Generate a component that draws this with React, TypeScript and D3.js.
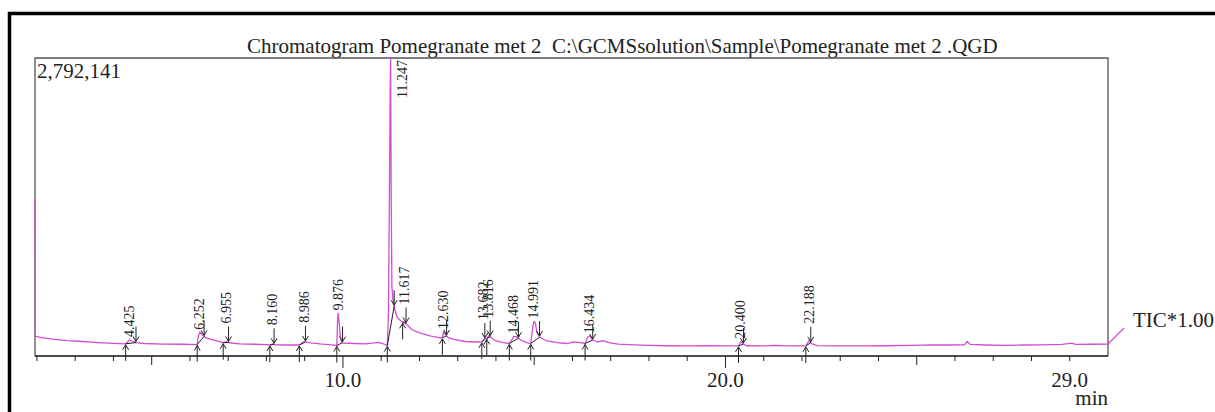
import React from 'react'
import * as d3 from 'd3'

// retention time (min) and TIC counts
const rtMin = [
  1.95, 1.96, 2.1, 2.4, 2.8, 3.2, 3.6, 4.0, 4.32, 4.42, 4.52, 4.59, 4.8, 5.3, 5.8,
  6.19, 6.22, 6.26, 6.32, 6.4, 6.55, 6.75, 6.87, 6.955, 7.03, 7.3, 7.7, 8.0, 8.09, 8.16,
  8.24, 8.5, 8.86, 8.95, 9.0, 9.1, 9.4, 9.7, 9.84, 9.86, 9.876, 9.9, 9.93, 9.96, 10.0,
  10.3, 10.6, 10.93, 11.1, 11.16, 11.19, 11.215, 11.235, 11.247, 11.26, 11.28, 11.31,
  11.36, 11.42, 11.49, 11.56, 11.617, 11.68, 11.8, 12.0, 12.3, 12.55, 12.6, 12.63, 12.68,
  12.75, 12.9, 13.2, 13.5, 13.63, 13.7, 13.76, 13.82, 13.9, 14.0, 14.2, 14.35, 14.47,
  14.55, 14.65, 14.8, 14.91, 14.96, 14.99, 15.03, 15.07, 15.14, 15.3, 15.6, 15.85, 16.05,
  16.25, 16.33, 16.4, 16.45, 16.53, 16.65, 16.8, 16.95, 17.2, 17.6, 18.0, 18.5, 19.0,
  19.5, 20.0, 20.34, 20.4, 20.47, 20.55, 21.0, 21.3, 21.6, 22.1, 22.18, 22.25, 22.4, 22.8,
  23.5, 24.2, 24.9, 25.4, 25.9, 26.25, 26.32, 26.4, 26.8, 27.3, 27.8, 28.3, 28.8, 29.05,
  29.15, 29.6, 30.0,
]
const ticCounts = [
  1480000, 187000, 173000, 159000, 145000, 136000, 126000, 119000, 114000, 150000, 136000,
  126000, 117000, 112000, 110000,
  107000, 187000, 225000, 201000, 173000, 155000, 136000, 124000, 136000, 124000, 114000,
  110000, 107000, 103000, 114000,
  105000, 103000, 103000, 126000, 134000, 126000, 114000, 105000, 98000, 337000, 398000,
  319000, 187000, 136000, 122000,
  117000, 114000, 128000, 108000, 98000, 400000, 1500000, 2500000, 2792141, 1600000, 650000,
  520000,
  431000, 360000, 337000, 316000, 320000, 290000, 248000, 216000, 187000, 169000, 169000,
  225000, 201000,
  173000, 155000, 136000, 131000, 132000, 159000, 164000, 192000, 164000, 141000, 126000,
  117000, 183000,
  178000, 150000, 126000, 117000, 262000, 323000, 309000, 225000, 178000, 145000, 126000,
  117000, 132000,
  122000, 117000, 178000, 187000, 150000, 131000, 145000, 126000, 112000, 105000, 100000,
  96000, 94000,
  97000, 94000, 94000, 133000, 112000, 96000, 94000, 100000, 94000, 94000, 141000, 117000,
  98000, 94000,
  94000, 96000, 100000, 105000, 103000, 105000, 136000, 108000, 103000, 100000, 103000,
  105000, 108000, 120000,
  108000, 110000, 112000,
]

// integrated peaks: apex, start and end times
const peakRT = [4.425, 6.252, 6.955, 8.16, 8.986, 9.876, 11.247, 11.617, 12.63, 13.682, 13.816, 14.468, 14.991, 16.434, 20.4, 22.188]
const peakStart = [4.32, 6.19, 6.87, 8.09, 8.86, 9.84, 11.16, 11.56, 12.6, 13.63, 13.76, 14.35, 14.91, 16.33, 20.34, 22.1]
const peakEnd = [4.59, 6.37, 7.01, 8.2, 9.02, 9.99, 11.34, 11.65, 12.71, 13.71, 13.85, 14.59, 15.14, 16.53, 20.47, 22.23]

const labelTicks = [10, 20, 29]
const fullScale = 2792141
const title = 'Chromatogram Pomegranate met 2  C:\\GCMSsolution\\Sample\\Pomegranate met 2 .QGD'

const serif = '"Liberation Serif", "Times New Roman", serif'

export default function App() {
  const W = 1215
  const H = 412
  const m = { left: 35, right: 1108, top: 58, bottom: 356 }

  const x = d3.scaleLinear().domain([1.95, 30]).range([m.left, m.right])
  const y = d3.scaleLinear().domain([0, fullScale]).range([m.bottom, m.top])

  const pts: [number, number][] = rtMin.map((t, i) => [t, ticCounts[i]])
  const line = d3.line<[number, number]>().x(d => x(d[0])).y(d => y(d[1]))
  const bis = d3.bisector((d: [number, number]) => d[0]).left
  const at = (t: number) => {
    const i = Math.max(1, Math.min(pts.length - 1, bis(pts, t)))
    const a = pts[i - 1], b = pts[i]
    return a[1] + (b[1] - a[1]) * (t - a[0]) / (b[0] - a[0])
  }

  const ticks = d3.range(2, 30)
  const fmt = d3.format('.3f')
  const last = pts[pts.length - 1]

  return (
    <svg width={W} height={H} style={{ position: 'absolute', left: 0, top: 0, background: '#fff' }}>
      {/* outer frame */}
      <rect x={9.5} y={13.5} width={1400} height={600} fill="none" stroke="#000" strokeWidth={3.5} />

      <text x={247} y={53} fontFamily={serif} fontSize={21} fill="#222" style={{ whiteSpace: 'pre' }}>{title}</text>

      {/* plot box */}
      <path d={`M${m.left},${m.bottom}V${m.top}H${m.right}V${m.bottom}`} fill="none" stroke="#555" strokeWidth={1.3} />
      <line x1={m.left} x2={m.right} y1={m.bottom} y2={m.bottom} stroke="#111" strokeWidth={1.3} />
      {ticks.map(t => (
        <line key={t} x1={x(t)} x2={x(t)} y1={m.bottom} y2={m.bottom + (t % 10 === 0 ? 12 : t % 5 === 0 ? 9 : 5)} stroke="#222" strokeWidth={1} />
      ))}
      {labelTicks.map(t => (
        <text key={t} x={x(t)} y={387} textAnchor="middle" fontFamily={serif} fontSize={21} fill="#222">{d3.format('.1f')(t)}</text>
      ))}
      <text x={m.right} y={405} textAnchor="end" fontFamily={serif} fontSize={21} fill="#222">min</text>

      <text x={37} y={78} fontFamily={serif} fontSize={21} fill="#222">{d3.format(',')(fullScale)}</text>

      {/* TIC trace */}
      <path d={line(pts) || ''} fill="none" stroke="#d24ed2" strokeWidth={1.3} strokeLinejoin="round" />
      <line x1={x(last[0])} y1={y(last[1])} x2={x(last[0]) + 16} y2={y(last[1]) - 16} stroke="#d24ed2" strokeWidth={1.2} />
      <text x={1133} y={327} fontFamily={serif} fontSize={21} fill="#222">TIC*1.00</text>

      {/* peak markers */}
      {peakRT.map((rt, i) => {
        const xs = x(peakStart[i]), ys = y(at(peakStart[i]))
        const xe = x(peakEnd[i]), ye = y(at(peakEnd[i]))
        const d = `M${xs},${ys}L${xe},${ye}` +
          `M${xs},${ys + 17}V${ys + 1}M${xs - 3},${ys + 6}L${xs},${ys + 1}L${xs + 3},${ys + 6}` +
          `M${xe},${ye - 16}V${ye - 1}M${xe - 3},${ye - 6}L${xe},${ye - 1}L${xe + 3},${ye - 6}`
        return <path key={'m' + i} d={d} fill="none" stroke="#222" strokeWidth={1} />
      })}

      {/* retention time labels */}
      {peakRT.map((rt, i) => {
        const px = x(rt)
        const apexY = y(at(rt))
        let lx = px
        let ly = apexY - 3
        let anchor = 'start'
        if (ly - 40 < m.top) {
          lx = px + 12
          ly = m.top + 2
          anchor = 'end'
        } else if (Math.abs(x(peakEnd[i]) - px) < 2.5) {
          ly = Math.min(ly, y(at(peakEnd[i])) - 19)
        }
        return (
          <text key={'l' + i} transform={`translate(${lx},${ly}) rotate(-90)`} textAnchor={anchor}
            dominantBaseline="central" fontFamily={serif} fontSize={14} fill="#222">{fmt(rt)}</text>
        )
      })}
    </svg>
  )
}
